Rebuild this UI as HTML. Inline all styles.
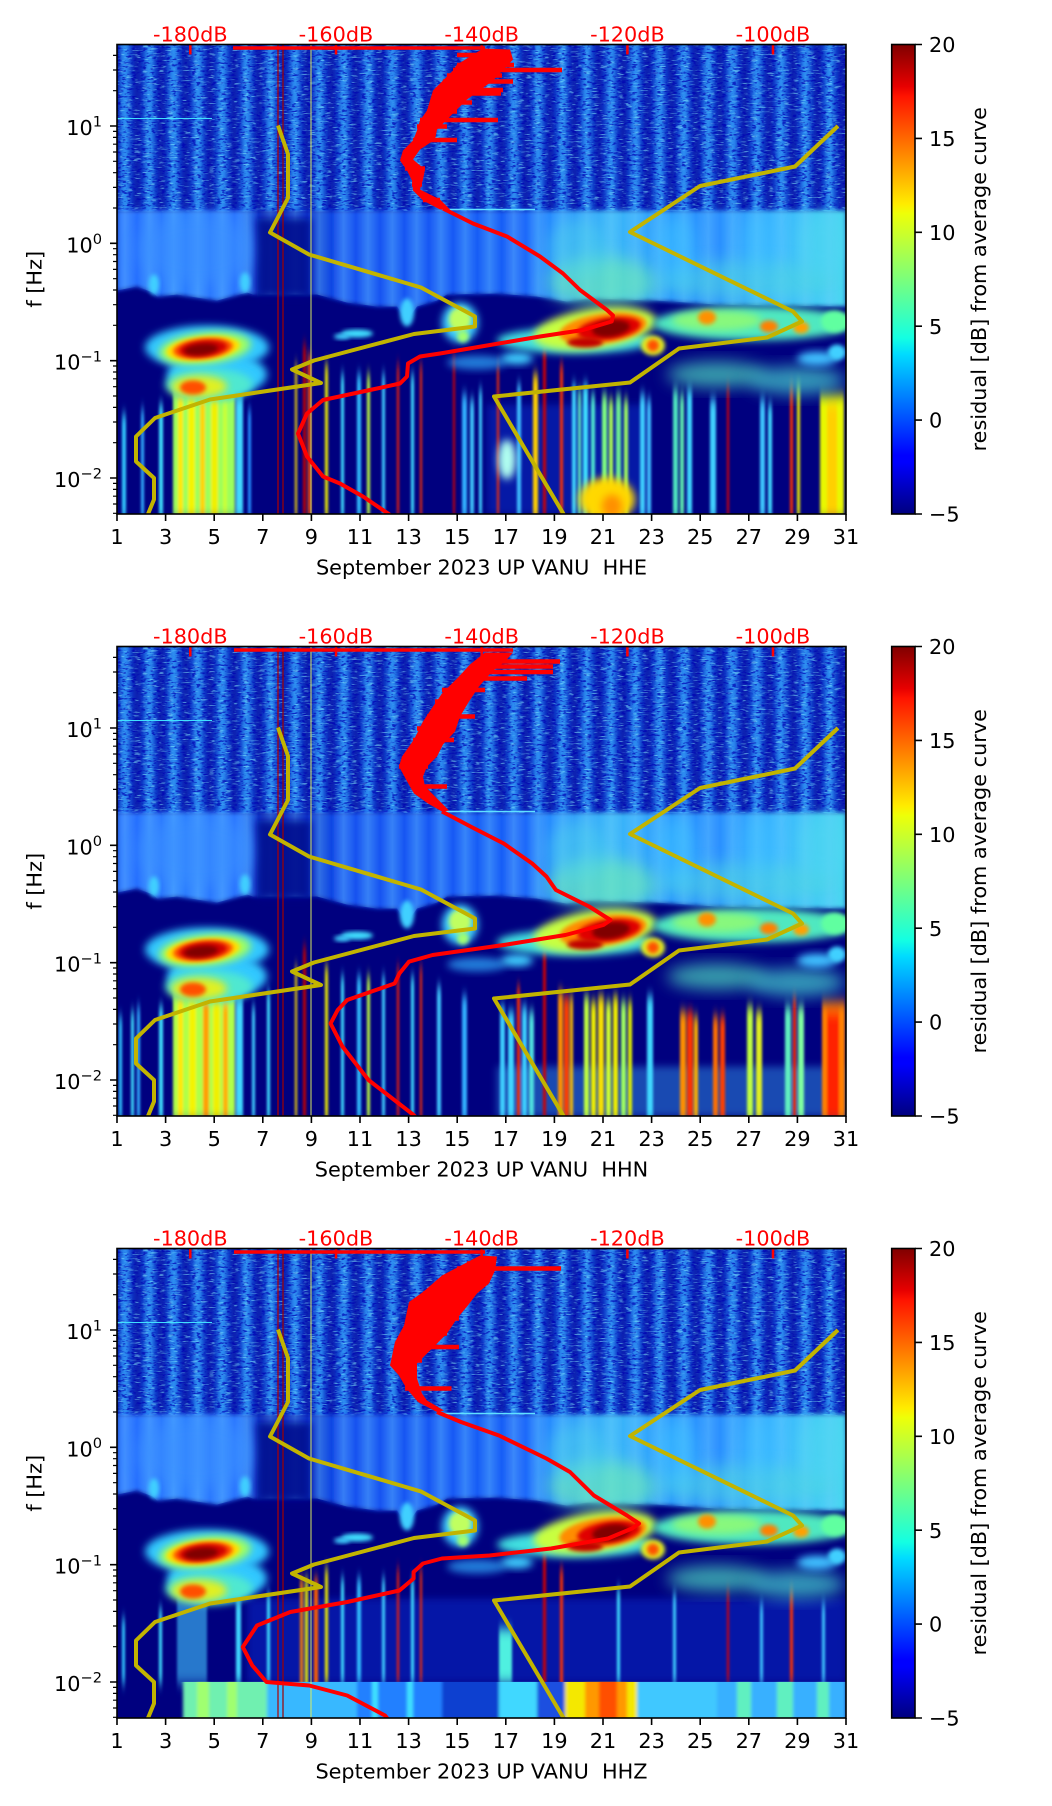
<!DOCTYPE html>
<html><head><meta charset="utf-8"><style>
html,body{margin:0;padding:0;background:#fff;}
svg{display:block;font-family:"DejaVu Sans","Liberation Sans",sans-serif;}
</style></head><body>
<svg width="1052" height="1806" viewBox="0 0 1052 1806" xmlns="http://www.w3.org/2000/svg" xmlns:xlink="http://www.w3.org/1999/xlink">
<defs>
<clipPath id="ax"><rect x="0" y="0" width="729" height="469.5"/></clipPath>
<filter id="b2" x="-30%" y="-30%" width="160%" height="160%"><feGaussianBlur stdDeviation="2"/></filter>
<filter id="b4" x="-40%" y="-40%" width="180%" height="180%"><feGaussianBlur stdDeviation="4"/></filter>
<filter id="b8" x="-40%" y="-40%" width="180%" height="180%"><feGaussianBlur stdDeviation="8"/></filter>
<filter id="bv" x="-10%" y="-10%" width="120%" height="120%"><feGaussianBlur stdDeviation="1.2 6"/></filter>
<filter id="bh" x="-10%" y="0%" width="120%" height="100%"><feGaussianBlur stdDeviation="1.5 0"/></filter>
<filter id="bh2" x="-5%" y="0%" width="110%" height="100%"><feGaussianBlur stdDeviation="2.2 0"/></filter>
<filter id="spk" x="0" y="0" width="1" height="1">
 <feTurbulence type="fractalNoise" baseFrequency="0.12 0.7" numOctaves="2" seed="4"/>
 <feColorMatrix type="matrix" values="0 0 0 0 0.25  0 0 0 0 0.9  0 0 0 0 1  7 0 0 0 -4.2"/>
</filter>
<filter id="spd" x="0" y="0" width="1" height="1">
 <feTurbulence type="fractalNoise" baseFrequency="0.2 0.5" numOctaves="2" seed="9"/>
 <feColorMatrix type="matrix" values="0 0 0 0 0  0 0 0 0 0  0 0 0 0 0.45  0 6 0 0 -3.2"/>
</filter>
<linearGradient id="stg" x1="0" y1="0" x2="1" y2="0">
 <stop offset="0" stop-color="#0a1ca8"/>
 <stop offset="0.26" stop-color="#0a34cc"/>
 <stop offset="0.5" stop-color="#3aacff"/>
 <stop offset="0.74" stop-color="#0a34cc"/>
 <stop offset="1" stop-color="#0a1ca8"/>
</linearGradient>
<pattern id="stp" patternUnits="userSpaceOnUse" x="-4.15" y="0" width="24.3" height="470">
 <rect width="24.3" height="470" fill="url(#stg)"/>
</pattern>
<linearGradient id="stg2" x1="0" y1="0" x2="1" y2="0">
 <stop offset="0" stop-color="#70d0ff" stop-opacity="0"/>
 <stop offset="0.5" stop-color="#70d0ff" stop-opacity="0.6"/>
 <stop offset="1" stop-color="#70d0ff" stop-opacity="0"/>
</linearGradient>
<pattern id="stp2" patternUnits="userSpaceOnUse" x="-4.15" y="0" width="24.3" height="470">
 <rect width="24.3" height="470" fill="url(#stg2)"/>
</pattern>
<linearGradient id="midg" x1="0" y1="0" x2="729" y2="0" gradientUnits="userSpaceOnUse">
 <stop offset="0" stop-color="#2468ff"/>
 <stop offset="0.08" stop-color="#2c7cff"/>
 <stop offset="0.17" stop-color="#2a74ff"/>
 <stop offset="0.2" stop-color="#0a28c0"/>
 <stop offset="0.27" stop-color="#0c34d0"/>
 <stop offset="0.31" stop-color="#1450f0"/>
 <stop offset="0.55" stop-color="#1a5ef8"/>
 <stop offset="0.6" stop-color="#2a90ff"/>
 <stop offset="0.68" stop-color="#3cb8f8"/>
 <stop offset="0.76" stop-color="#2c98ff"/>
 <stop offset="0.82" stop-color="#2a8cff"/>
 <stop offset="0.9" stop-color="#38b4ff"/>
 <stop offset="1" stop-color="#48d8f0"/>
</linearGradient>
<linearGradient id="jet" x1="0" y1="1" x2="0" y2="0">
 <stop offset="0" stop-color="#00007f"/>
 <stop offset="0.11" stop-color="#0000ff"/>
 <stop offset="0.125" stop-color="#0000ff"/>
 <stop offset="0.34" stop-color="#00dbff"/>
 <stop offset="0.375" stop-color="#14ffe2"/>
 <stop offset="0.5" stop-color="#7bff7b"/>
 <stop offset="0.64" stop-color="#eeff08"/>
 <stop offset="0.66" stop-color="#ffec00"/>
 <stop offset="0.89" stop-color="#ff1300"/>
 <stop offset="0.91" stop-color="#e80000"/>
 <stop offset="1" stop-color="#800000"/>
</linearGradient>

<g id="baseA">
 <rect x="0" y="0" width="729" height="470" fill="#00007f"/>
 <rect x="0" y="0" width="729" height="167" fill="url(#stp)" filter="url(#bh2)"/>
 <rect x="0" y="0" width="729" height="167" fill="#000" filter="url(#spd)" opacity="0.7"/>
 <rect x="0" y="0" width="729" height="167" fill="#000" filter="url(#spk)" opacity="0.5"/>
 <line x1="0" y1="74" x2="95" y2="74" stroke="#40e0ff" stroke-width="1"/>
 <g filter="url(#b2)">
  <polygon points="0,166 729,166 729,262 600,260 540,256 470,254 450,257 420,252 380,249 330,250 320,256 300,262 290,276 280,262 260,262 230,258 200,250 136,250 130,248 100,256 60,250 40,252 36,248 20,242 0,246" fill="url(#midg)"/>
 </g>
 <polygon points="0,166 729,166 729,262 600,260 540,256 470,254 450,257 420,252 380,249 330,250 320,256 300,262 290,276 280,262 260,262 230,258 200,250 136,250 130,248 100,256 60,250 40,252 36,248 20,242 0,246" fill="url(#stp2)" opacity="0.6"/>
 <ellipse cx="80" cy="205" rx="60" ry="35" fill="#3a90ff" opacity="0.6" filter="url(#b8)"/>
 <rect x="140" y="174" width="54" height="78" fill="#04108e" opacity="0.9" filter="url(#b4)"/>
 <ellipse cx="37" cy="240" rx="5" ry="10" fill="#40d0ff" filter="url(#b2)"/>
 <ellipse cx="128" cy="238" rx="5" ry="10" fill="#40d0ff" filter="url(#b2)"/>
 <ellipse cx="485" cy="238" rx="55" ry="26" fill="#70f0b0" opacity="0.6" filter="url(#b8)"/>
 <ellipse cx="460" cy="205" rx="30" ry="30" fill="#50d8e8" opacity="0.45" filter="url(#b8)"/>
 <ellipse cx="630" cy="236" rx="90" ry="20" fill="#50d8e0" opacity="0.55" filter="url(#b8)"/>
 <ellipse cx="705" cy="200" rx="25" ry="32" fill="#50d8f0" opacity="0.55" filter="url(#b8)"/>
 <ellipse cx="560" cy="205" rx="20" ry="35" fill="#40c8ff" opacity="0.5" filter="url(#b8)"/>
 <ellipse cx="640" cy="200" rx="18" ry="30" fill="#40c8ff" opacity="0.4" filter="url(#b8)"/>
 <line x1="325" y1="165" x2="418" y2="165" stroke="#60e0ff" stroke-width="1.5"/>
</g>

<g id="baseB">
 <ellipse cx="290" cy="268" rx="7" ry="14" fill="#40d0ff" filter="url(#b2)"/>
 <ellipse cx="240" cy="289" rx="16" ry="4" fill="#40e0ff" filter="url(#b2)"/>
 <ellipse cx="225" cy="292" rx="8" ry="3" fill="#40d0ff" filter="url(#b2)"/>
 <ellipse cx="343" cy="278" rx="18" ry="20" fill="#40d0ff" filter="url(#b4)"/>
 <ellipse cx="343" cy="275" rx="11" ry="12" fill="#c0ff60" filter="url(#b2)"/>
 <ellipse cx="346" cy="292" rx="6" ry="6" fill="#a0ff70" filter="url(#b2)"/>
 <ellipse cx="100" cy="330" rx="50" ry="22" fill="#30c8ff" filter="url(#b4)"/>
 <ellipse cx="90" cy="303" rx="62" ry="22" fill="#30c8ff" filter="url(#b4)"/>
 <ellipse cx="88" cy="304" rx="46" ry="16" fill="#a0ff60" filter="url(#b4)" transform="rotate(-6 88 304)"/>
 <ellipse cx="86" cy="304" rx="37" ry="12" fill="#ffe000" filter="url(#b2)" transform="rotate(-6 86 304)"/>
 <ellipse cx="86" cy="304" rx="30" ry="10" fill="#ff5000" filter="url(#b2)" transform="rotate(-6 86 304)"/>
 <ellipse cx="86" cy="304" rx="24" ry="8" fill="#d00000" filter="url(#b2)" transform="rotate(-6 86 304)"/>
 <ellipse cx="84" cy="305" rx="17" ry="5.5" fill="#800000" filter="url(#b2)" transform="rotate(-6 84 305)"/>
 <ellipse cx="92" cy="340" rx="44" ry="16" fill="#50e8d0" filter="url(#b4)"/>
 <ellipse cx="82" cy="342" rx="28" ry="11" fill="#e0f020" filter="url(#b4)"/>
 <ellipse cx="76" cy="343" rx="13" ry="7" fill="#ff5000" filter="url(#b2)"/>
 <ellipse cx="360" cy="318" rx="30" ry="7" fill="#30b0ff" opacity="0.7" filter="url(#b4)"/>
 <ellipse cx="400" cy="314" rx="16" ry="6" fill="#40d0ff" filter="url(#b4)"/>
 <ellipse cx="458" cy="296" rx="78" ry="13" fill="#40e0e0" filter="url(#b4)"/>
 <ellipse cx="478" cy="284" rx="62" ry="20" fill="#c8ff40" filter="url(#b4)" transform="rotate(-8 478 284)"/>
 <ellipse cx="486" cy="284" rx="44" ry="15" fill="#ff8c00" filter="url(#b2)" transform="rotate(-8 486 284)"/>
 <ellipse cx="492" cy="284" rx="32" ry="11" fill="#e00000" filter="url(#b2)" transform="rotate(-8 492 284)"/>
 <ellipse cx="494" cy="284" rx="19" ry="8" fill="#800000" filter="url(#b2)" transform="rotate(-8 494 284)"/>
 <ellipse cx="468" cy="298" rx="18" ry="5" fill="#c00000" filter="url(#b2)"/>
 <ellipse cx="636" cy="279" rx="100" ry="17" fill="#50e8c0" filter="url(#b4)"/>
 <ellipse cx="600" cy="276" rx="45" ry="10" fill="#a0ff60" opacity="0.7" filter="url(#b4)"/>
 <ellipse cx="590" cy="273" rx="9" ry="7" fill="#ff9000" filter="url(#b2)"/>
 <ellipse cx="652" cy="282" rx="9" ry="6" fill="#ff8000" filter="url(#b2)"/>
 <ellipse cx="684" cy="283" rx="8" ry="6" fill="#ffa000" filter="url(#b2)"/>
 <ellipse cx="718" cy="277" rx="14" ry="11" fill="#60ffa0" filter="url(#b2)"/>
 <ellipse cx="536" cy="301" rx="12" ry="10" fill="#e0f020" filter="url(#b2)"/>
 <ellipse cx="536" cy="301" rx="6" ry="6" fill="#ff5000" filter="url(#b2)"/>
 <ellipse cx="600" cy="330" rx="50" ry="13" fill="#50e0c0" opacity="0.7" filter="url(#b8)"/>
 <ellipse cx="680" cy="336" rx="48" ry="14" fill="#48d8d0" opacity="0.7" filter="url(#b8)"/>
 <ellipse cx="700" cy="314" rx="20" ry="7" fill="#40c0ff" filter="url(#b4)"/>
 <ellipse cx="720" cy="308" rx="9" ry="8" fill="#40d0ff" filter="url(#b2)"/>
</g>

<g id="vl">
 <line x1="161" y1="0" x2="161" y2="470" stroke="#b00000" stroke-width="1.2"/>
 <line x1="166" y1="0" x2="166" y2="470" stroke="#a00000" stroke-width="1.2"/>
 <line x1="194" y1="0" x2="194" y2="470" stroke="#e0f060" stroke-width="1.2" opacity="0.8"/>
</g>

<g id="yc" fill="none" stroke="#c2b400" stroke-width="4" stroke-linejoin="round">
 <polyline points="161,81 171,109.5 171,153.5 153,188 192,210 304,243 358,272 358,282 297,289.5 197,316 175,325 204,338.5 93,355 38,373.5 19,392 19,417 37,433.5 37,455 30,472"/>
 <polyline points="721,81.5 678,122 583,141.5 513,187.5 676,267 685,277 650,293 562,304 513,338 377,352 448,472"/>
</g>

<g id="rt" stroke="#ff0000" stroke-width="2.5">
 <line x1="73.3" y1="0" x2="73.3" y2="10"/>
 <line x1="219" y1="0" x2="219" y2="10"/>
 <line x1="364.7" y1="0" x2="364.7" y2="10"/>
 <line x1="510.4" y1="0" x2="510.4" y2="10"/>
 <line x1="656" y1="0" x2="656" y2="10"/>
</g>

<g id="deco">
 <rect x="0" y="0" width="729" height="469.5" fill="none" stroke="#000" stroke-width="1.6"/>
 <path d="M-7,81.5h7M-7,198.8h7M-7,316.2h7M-7,433.5h7" stroke="#000" stroke-width="1.6"/>
 <path d="M-4,46.2h4M-4,25.5h4M-4,10.9h4M-4,163.5h4M-4,142.9h4M-4,128.2h4M-4,116.8h4M-4,107.5h4M-4,99.7h4M-4,92.9h4M-4,86.9h4M-4,280.8h4M-4,260.2h4M-4,245.5h4M-4,234.2h4M-4,224.9h4M-4,217h4M-4,210.2h4M-4,204.2h4M-4,398.2h4M-4,377.5h4M-4,362.9h4M-4,351.5h4M-4,342.2h4M-4,334.3h4M-4,327.5h4M-4,321.5h4M-4,468.8h4M-4,459.5h4M-4,451.7h4M-4,444.9h4M-4,438.9h4" stroke="#000" stroke-width="1.2"/>
 <g font-size="20.8" text-anchor="end" fill="#000">
  <text x="-15" y="90.5">10<tspan font-size="14.6" dy="-8.4">1</tspan></text>
  <text x="-15" y="207.8">10<tspan font-size="14.6" dy="-8.4">0</tspan></text>
  <text x="-15" y="325.2">10<tspan font-size="14.6" dy="-8.4">−1</tspan></text>
  <text x="-15" y="442.5">10<tspan font-size="14.6" dy="-8.4">−2</tspan></text>
 </g>
 <path d="M0,469.5v7M48.6,469.5v7M97.2,469.5v7M145.8,469.5v7M194.4,469.5v7M243,469.5v7M291.6,469.5v7M340.2,469.5v7M388.8,469.5v7M437.4,469.5v7M486,469.5v7M534.6,469.5v7M583.2,469.5v7M631.8,469.5v7M680.4,469.5v7M729,469.5v7" stroke="#000" stroke-width="1.6"/>
 <g font-size="20.8" text-anchor="middle" fill="#000">
  <text x="0" y="499.5">1</text><text x="48.6" y="499.5">3</text><text x="97.2" y="499.5">5</text><text x="145.8" y="499.5">7</text><text x="194.4" y="499.5">9</text><text x="243" y="499.5">11</text><text x="291.6" y="499.5">13</text><text x="340.2" y="499.5">15</text><text x="388.8" y="499.5">17</text><text x="437.4" y="499.5">19</text><text x="486" y="499.5">21</text><text x="534.6" y="499.5">23</text><text x="583.2" y="499.5">25</text><text x="631.8" y="499.5">27</text><text x="680.4" y="499.5">29</text><text x="729" y="499.5">31</text>
 </g>
 <g font-size="20.8" text-anchor="middle" fill="#ff0000">
  <text x="73.3" y="-3">-180dB</text><text x="219" y="-3">-160dB</text><text x="364.7" y="-3">-140dB</text><text x="510.4" y="-3">-120dB</text><text x="656" y="-3">-100dB</text>
 </g>
 <text font-size="20.8" text-anchor="middle" transform="translate(-75.5,234.75) rotate(-90)">f [Hz]</text>
 <rect x="774.7" y="0" width="23.3" height="469.5" fill="url(#jet)"/>
 <rect x="774.7" y="0" width="23.3" height="469.5" fill="none" stroke="#000" stroke-width="1.6"/>
 <path d="M798,0h7M798,93.9h7M798,187.8h7M798,281.7h7M798,375.6h7M798,469.5h7" stroke="#000" stroke-width="1.6"/>
 <g font-size="20.8" fill="#000">
  <text x="812" y="7.6">20</text><text x="812" y="101.5">15</text><text x="812" y="195.4">10</text><text x="812" y="289.3">5</text><text x="812" y="383.2">0</text><text x="812" y="477.1">−5</text>
 </g>
 <text font-size="20.8" text-anchor="middle" transform="translate(868.8,234.75) rotate(-90)">residual [dB] from average curve</text>
</g>
</defs>

<rect x="0" y="0" width="1052" height="1806" fill="#fff"/>

<!-- PLOT 1 -->
<g transform="translate(117,44.5)">
 <g clip-path="url(#ax)">
  <use xlink:href="#baseA"/>
  <rect x="370" y="360" width="160" height="110" fill="#1040e0" opacity="0.4" filter="url(#b4)"/>
  <g filter="url(#bv)">
   <rect x="56" y="345" width="62" height="130" fill="#9cff5c"/>
   <rect x="61" y="350" width="5" height="125" fill="#ffe800"/>
   <rect x="71" y="345" width="7" height="130" fill="#f4f400"/>
   <rect x="83" y="350" width="5" height="125" fill="#ffd400"/>
   <rect x="94" y="345" width="7" height="130" fill="#f0f000"/>
   <rect x="106" y="355" width="4" height="120" fill="#c8ff38"/>
   <rect x="5" y="370" width="4" height="105" fill="#30c8ff"/>
   <rect x="24" y="365" width="3" height="110" fill="#30b0ff"/>
   <rect x="42" y="360" width="4" height="115" fill="#40e0ff"/>
   <rect x="119" y="350" width="7" height="125" fill="#40d8ff"/>
   <rect x="131" y="365" width="3" height="110" fill="#2890ff"/>
   <rect x="178" y="320" width="2" height="155" fill="#ffe000"/>
   <rect x="186" y="300" width="3" height="175" fill="#c00000"/>
   <rect x="191" y="310" width="3" height="165" fill="#ff5000"/>
   <rect x="208" y="320" width="3" height="155" fill="#f0f000"/>
   <rect x="224" y="330" width="3" height="145" fill="#40e0ff"/>
   <rect x="240" y="330" width="4" height="145" fill="#30c0ff"/>
   <rect x="250" y="330" width="3" height="145" fill="#c0ff40"/>
   <rect x="265" y="330" width="3" height="145" fill="#40d0ff"/>
   <rect x="280" y="320" width="2" height="155" fill="#ff2000"/>
   <rect x="294" y="330" width="3" height="145" fill="#40e0ff"/>
   <rect x="303" y="320" width="2" height="155" fill="#ff3000"/>
   <rect x="336" y="310" width="2" height="165" fill="#d00000"/>
   <rect x="345" y="350" width="5" height="125" fill="#30b0ff"/>
   <rect x="353" y="355" width="4" height="120" fill="#40c8ff"/>
   <rect x="362" y="345" width="3" height="130" fill="#40d0ff"/>
   <rect x="380" y="320" width="2" height="155" fill="#ff3000"/>
   <rect x="400" y="340" width="4" height="135" fill="#40c0ff"/>
   <rect x="416" y="330" width="5" height="145" fill="#ffd000"/>
   <rect x="426" y="300" width="3" height="175" fill="#d00000"/>
   <rect x="443" y="320" width="3" height="155" fill="#ff3000"/>
   <rect x="455" y="340" width="4" height="135" fill="#40d8ff"/>
   <rect x="461" y="345" width="3" height="130" fill="#60f0c0"/>
   <rect x="466" y="340" width="5" height="135" fill="#40e0ff"/>
   <rect x="474" y="350" width="4" height="125" fill="#50e8d0"/>
   <rect x="485" y="350" width="5" height="125" fill="#80ff80"/>
   <rect x="492" y="355" width="4" height="120" fill="#b0ff50"/>
   <rect x="499" y="350" width="5" height="125" fill="#70f090"/>
   <rect x="507" y="355" width="4" height="120" fill="#a0ff60"/>
   <rect x="523" y="350" width="5" height="125" fill="#40d0ff"/>
   <rect x="530" y="355" width="4" height="120" fill="#40c0ff"/>
   <rect x="556" y="345" width="5" height="130" fill="#50e8c0"/>
   <rect x="563" y="350" width="4" height="125" fill="#60f0b0"/>
   <rect x="570" y="345" width="5" height="130" fill="#40d8ff"/>
   <rect x="593" y="355" width="6" height="120" fill="#40d0ff"/>
   <rect x="610" y="340" width="2" height="135" fill="#e00000"/>
   <rect x="643" y="355" width="5" height="120" fill="#40c8ff"/>
   <rect x="651" y="360" width="4" height="115" fill="#40d8ff"/>
   <rect x="673" y="340" width="3" height="135" fill="#ff3000"/>
   <rect x="680" y="340" width="3" height="135" fill="#f0f000"/>
   <rect x="703" y="350" width="24" height="125" fill="#e8f800"/>
   <rect x="710" y="360" width="10" height="115" fill="#ffd000"/>
  </g>
  <ellipse cx="390" cy="415" rx="9" ry="20" fill="#b0fff0" filter="url(#b4)"/>
  <ellipse cx="490" cy="455" rx="28" ry="22" fill="#ffd800" filter="url(#b4)"/>
  <ellipse cx="495" cy="462" rx="10" ry="12" fill="#ff9000" filter="url(#b4)"/>
  <use xlink:href="#baseB"/>
  <use xlink:href="#vl"/>
  <use xlink:href="#yc"/>
  <line x1="116" y1="3.5" x2="368" y2="3.5" stroke="#ff0000" stroke-width="3.5"/>
  <polygon fill="#ff0000" points="366,4 350,14 340,20 336,26 326,36 316,46 313,56 310,66 303,76 300,86 296,96 286,106 283,116 290,126 295,136 296,146 306,156 323,165 333,165 323,155 303,145 306,135 308,125 296,115 303,105 318,95 320,85 330,75 340,65 350,55 376,36 396,15 393,5"/>
  <g stroke="#ff0000" stroke-width="4.5">
   <line x1="340" y1="10.5" x2="394" y2="10.5"/>
   <line x1="340" y1="20.5" x2="397" y2="20.5"/>
   <line x1="336" y1="25.5" x2="445" y2="25.5"/>
   <line x1="330" y1="31" x2="385" y2="31"/>
   <line x1="326" y1="37" x2="396" y2="37"/>
   <line x1="318" y1="45.5" x2="386" y2="45.5"/>
   <line x1="318" y1="49" x2="384" y2="49"/>
   <line x1="313" y1="58" x2="355" y2="58"/>
   <line x1="310" y1="67" x2="340" y2="67"/>
   <line x1="303" y1="75.5" x2="381" y2="75.5"/>
   <line x1="300" y1="82" x2="330" y2="82"/>
   <line x1="296" y1="95.5" x2="340" y2="95.5"/>
   <line x1="288" y1="124" x2="308" y2="124"/>
   <line x1="295" y1="134" x2="305" y2="134"/>
   <line x1="295" y1="140" x2="305" y2="140"/>
   <line x1="306" y1="155.5" x2="323" y2="155.5"/>
  </g>
  <polyline fill="none" stroke="#ff0000" stroke-width="4" stroke-linejoin="round" points="326,164 356,179 390,192 423,212 446,229 463,245.5 490,265.5 496,271 494.7,277 466,285.5 423,292 373,300.5 323,309 303,312 291,319 290,332 283,339 253,345.5 206,355.5 190,369 181,389 190,412 206,432 223,439 246,452 271,469 275,472"/>
  <use xlink:href="#rt"/>
 </g>
 <use xlink:href="#deco"/>
 <text x="364.5" y="530" font-size="20.8" text-anchor="middle" style="white-space:pre">September 2023 UP VANU  HHE</text>
</g>

<!-- PLOT 2 -->
<g transform="translate(117,646.5)">
 <g clip-path="url(#ax)">
  <use xlink:href="#baseA"/>
  <rect x="380" y="420" width="349" height="50" fill="#40b8ff" opacity="0.4" filter="url(#b4)"/>
  <g filter="url(#bv)">
   <rect x="56" y="345" width="62" height="130" fill="#b0ff48"/>
   <rect x="61" y="350" width="5" height="125" fill="#ffe800"/>
   <rect x="72" y="345" width="7" height="130" fill="#f4f400"/>
   <rect x="86" y="350" width="6" height="125" fill="#ffa000"/>
   <rect x="96" y="345" width="7" height="130" fill="#f0f000"/>
   <rect x="106" y="355" width="5" height="120" fill="#ffb000"/>
   <rect x="2" y="370" width="3" height="105" fill="#30c8ff"/>
   <rect x="14" y="365" width="3" height="110" fill="#40e0ff"/>
   <rect x="20" y="360" width="3" height="115" fill="#30b0ff"/>
   <rect x="42" y="360" width="4" height="115" fill="#40e0ff"/>
   <rect x="119" y="350" width="7" height="125" fill="#40d8ff"/>
   <rect x="135" y="360" width="3" height="115" fill="#40d0ff"/>
   <rect x="150" y="345" width="3" height="130" fill="#40e0ff"/>
   <rect x="178" y="320" width="2" height="155" fill="#ffe000"/>
   <rect x="186" y="300" width="3" height="175" fill="#c00000"/>
   <rect x="208" y="320" width="3" height="155" fill="#f0f000"/>
   <rect x="224" y="330" width="3" height="145" fill="#40e0ff"/>
   <rect x="240" y="330" width="4" height="145" fill="#30c0ff"/>
   <rect x="250" y="330" width="3" height="145" fill="#c0ff40"/>
   <rect x="265" y="330" width="3" height="145" fill="#40d0ff"/>
   <rect x="280" y="320" width="2" height="155" fill="#ff2000"/>
   <rect x="294" y="330" width="3" height="145" fill="#40e0ff"/>
   <rect x="303" y="320" width="2" height="155" fill="#ff3000"/>
   <rect x="320" y="340" width="4" height="135" fill="#40c8ff"/>
   <rect x="345" y="350" width="5" height="125" fill="#30b0ff"/>
   <rect x="383" y="360" width="5" height="115" fill="#40d0ff"/>
   <rect x="391" y="365" width="6" height="110" fill="#40d8ff"/>
   <rect x="400" y="340" width="3" height="135" fill="#ff3000"/>
   <rect x="405" y="360" width="5" height="115" fill="#40d0ff"/>
   <rect x="412" y="365" width="5" height="110" fill="#50e0e0"/>
   <rect x="426" y="300" width="3" height="175" fill="#d00000"/>
   <rect x="441" y="345" width="5" height="130" fill="#ff9000"/>
   <rect x="447" y="350" width="5" height="125" fill="#ff4000"/>
   <rect x="453" y="350" width="3" height="125" fill="#ffc000"/>
   <rect x="467" y="350" width="5" height="125" fill="#c0ff40"/>
   <rect x="474" y="355" width="5" height="120" fill="#f0f000"/>
   <rect x="481" y="350" width="6" height="125" fill="#f8e000"/>
   <rect x="489" y="355" width="5" height="120" fill="#d0ff30"/>
   <rect x="496" y="350" width="5" height="125" fill="#f0f000"/>
   <rect x="504" y="355" width="5" height="120" fill="#a0ff60"/>
   <rect x="511" y="355" width="4" height="120" fill="#e0f000"/>
   <rect x="530" y="350" width="6" height="125" fill="#40d8ff"/>
   <rect x="563" y="365" width="6" height="110" fill="#ff9000"/>
   <rect x="570" y="365" width="6" height="110" fill="#ff3000"/>
   <rect x="577" y="370" width="4" height="105" fill="#ffb000"/>
   <rect x="596" y="370" width="5" height="105" fill="#ff7000"/>
   <rect x="603" y="370" width="5" height="105" fill="#ff4000"/>
   <rect x="630" y="360" width="6" height="115" fill="#c0ff40"/>
   <rect x="639" y="365" width="6" height="110" fill="#e0f020"/>
   <rect x="668" y="360" width="6" height="115" fill="#60f0c0"/>
   <rect x="676" y="350" width="3" height="125" fill="#ff3000"/>
   <rect x="681" y="360" width="6" height="115" fill="#80ffa0"/>
   <rect x="705" y="355" width="23" height="120" fill="#ff8000"/>
   <rect x="710" y="365" width="12" height="110" fill="#ff2000"/>
  </g>
  <use xlink:href="#baseB"/>
  <use xlink:href="#vl"/>
  <use xlink:href="#yc"/>
  <line x1="117" y1="3.5" x2="396" y2="3.5" stroke="#ff0000" stroke-width="3.5"/>
  <polygon fill="#ff0000" points="368,6 353,18 342,30 325,47 316,60 306,75 297,93 285,110 282,120 289,133 297,147 311,157 325,165 332,164 320,152 308,140 306,130 310,120 320,110 326,98 338,85 343,70 352,55 362,40 375,25 388,15 396,6"/>
  <g stroke="#ff0000" stroke-width="4.5">
   <line x1="360" y1="15" x2="443" y2="15"/>
   <line x1="355" y1="20" x2="436" y2="20"/>
   <line x1="350" y1="25.5" x2="436" y2="25.5"/>
   <line x1="342" y1="32" x2="410" y2="32"/>
   <line x1="325" y1="43.5" x2="368" y2="43.5"/>
   <line x1="318" y1="55" x2="349" y2="55"/>
   <line x1="310" y1="70" x2="358" y2="70"/>
   <line x1="300" y1="82" x2="337" y2="82"/>
   <line x1="296" y1="93.5" x2="337" y2="93.5"/>
   <line x1="282" y1="120" x2="311" y2="120"/>
   <line x1="295" y1="140" x2="330" y2="140"/>
  </g>
  <polyline fill="none" stroke="#ff0000" stroke-width="4" stroke-linejoin="round" points="325,165 353.5,180 386.7,197 415.2,217 429.4,230 438.9,243.5 472.1,260 493.5,273.5 486.4,278.5 448.4,288.5 386.7,298.5 315.6,308.5 291.9,315.2 282.4,327 277.6,337 230.2,353.5 220.7,363.5 213.6,377 225.4,400 251.5,433.5 296.6,468.5 300,472"/>
  <use xlink:href="#rt"/>
 </g>
 <use xlink:href="#deco"/>
 <text x="364.5" y="530" font-size="20.8" text-anchor="middle" style="white-space:pre">September 2023 UP VANU  HHN</text>
</g>

<!-- PLOT 3 -->
<g transform="translate(117,1248.5)">
 <g clip-path="url(#ax)">
  <use xlink:href="#baseA"/>
  <rect x="130" y="350" width="599" height="84" fill="#0a30d8" opacity="0.45" filter="url(#b4)"/>
  <g filter="url(#bv)">
   <rect x="5" y="370" width="3" height="65" fill="#30c8ff"/>
   <rect x="42" y="360" width="3" height="75" fill="#40e0ff"/>
   <rect x="60" y="345" width="30" height="90" fill="#40c8ff" opacity="0.6"/>
   <rect x="119" y="350" width="5" height="85" fill="#40d8ff"/>
   <rect x="150" y="345" width="3" height="90" fill="#40e0ff"/>
   <rect x="183" y="330" width="3" height="145" fill="#ff8000"/>
   <rect x="188" y="330" width="3" height="145" fill="#f0f000"/>
   <rect x="197" y="330" width="4" height="145" fill="#ff6000"/>
   <rect x="208" y="320" width="3" height="115" fill="#f0f000"/>
   <rect x="224" y="330" width="3" height="105" fill="#40e0ff"/>
   <rect x="240" y="330" width="4" height="105" fill="#30c0ff"/>
   <rect x="265" y="330" width="3" height="105" fill="#40d0ff"/>
   <rect x="280" y="320" width="2" height="115" fill="#ff2000"/>
   <rect x="294" y="330" width="3" height="105" fill="#40e0ff"/>
   <rect x="303" y="320" width="2" height="115" fill="#ff3000"/>
   <rect x="382" y="380" width="13" height="55" fill="#50f0e0"/>
   <rect x="426" y="300" width="3" height="175" fill="#d00000"/>
   <rect x="443" y="320" width="3" height="155" fill="#ff3000"/>
   <rect x="500" y="340" width="3" height="95" fill="#40e0ff"/>
   <rect x="556" y="345" width="3" height="90" fill="#40d0ff"/>
   <rect x="610" y="340" width="2" height="95" fill="#e00000"/>
   <rect x="643" y="355" width="3" height="80" fill="#40c8ff"/>
   <rect x="673" y="340" width="3" height="95" fill="#ff3000"/>
   <rect x="705" y="355" width="3" height="80" fill="#40c8ff"/>
  </g>
  <g filter="url(#bh)">
   <rect x="66" y="433.4" width="84" height="37" fill="#70f0b0"/>
   <rect x="80" y="433.4" width="12" height="37" fill="#a0ff70"/>
   <rect x="110" y="433.4" width="10" height="37" fill="#a0ff70"/>
   <rect x="150" y="433.4" width="90" height="37" fill="#38b8ff"/>
   <rect x="240" y="433.4" width="85" height="37" fill="#2080ff"/>
   <rect x="255" y="433.4" width="6" height="37" fill="#40e0ff"/>
   <rect x="290" y="433.4" width="6" height="37" fill="#40e0ff"/>
   <rect x="325" y="433.4" width="57" height="37" fill="#1040d0"/>
   <rect x="382" y="433.4" width="38" height="37" fill="#40d8ff"/>
   <rect x="420" y="433.4" width="28" height="37" fill="#1a50e0"/>
   <rect x="448" y="433.4" width="72" height="37" fill="#f4e800"/>
   <rect x="468" y="433.4" width="42" height="37" fill="#ff9800"/>
   <rect x="482" y="433.4" width="18" height="37" fill="#ff5000"/>
   <rect x="520" y="433.4" width="80" height="37" fill="#40c8ff"/>
   <rect x="600" y="433.4" width="129" height="37" fill="#38b0ff"/>
   <rect x="620" y="433.4" width="14" height="37" fill="#60f0c0"/>
   <rect x="660" y="433.4" width="16" height="37" fill="#60f0c0"/>
   <rect x="700" y="433.4" width="12" height="37" fill="#60f0c0"/>
  </g>
  <use xlink:href="#baseB"/>
  <use xlink:href="#vl"/>
  <use xlink:href="#yc"/>
  <line x1="117" y1="3.5" x2="368" y2="3.5" stroke="#ff0000" stroke-width="3.5"/>
  <polygon fill="#ff0000" points="363,7 344,17 325,27 306,43.5 292,53.5 287,77 278,93.5 273,117 282,127 289.5,140 301,153.5 320,163.5 327,162 310,152 305,145 300,130 300,115 310,105 320,95 330,85 340,70 350,58 360,45 372,35 378,22 380,8"/>
  <g stroke="#ff0000" stroke-width="4.5">
   <line x1="350" y1="15" x2="377" y2="15"/>
   <line x1="340" y1="20" x2="444" y2="20"/>
   <line x1="325" y1="30" x2="368" y2="30"/>
   <line x1="320" y1="35" x2="368" y2="35"/>
   <line x1="306" y1="45" x2="356" y2="45"/>
   <line x1="300" y1="58" x2="345" y2="58"/>
   <line x1="292" y1="70" x2="342" y2="70"/>
   <line x1="285" y1="85" x2="330" y2="85"/>
   <line x1="280" y1="98.5" x2="342" y2="98.5"/>
   <line x1="275" y1="112" x2="305" y2="112"/>
   <line x1="288" y1="140" x2="334.5" y2="140"/>
  </g>
  <polyline fill="none" stroke="#ff0000" stroke-width="4" stroke-linejoin="round" points="320,163.5 344,173.5 382,187 429.4,210 453,223.5 476.9,247 510,267 522,275 515,280 491,290 434,300 372.5,307 325,310 306,315 296.6,323.5 296.6,330 282.4,342 230.2,353.5 173.3,363.5 140,377 125.8,398.5 135.3,417 149.5,433.5 192.2,437 230.2,447 268,467 272,472"/>
  <use xlink:href="#rt"/>
 </g>
 <use xlink:href="#deco"/>
 <text x="364.5" y="530" font-size="20.8" text-anchor="middle" style="white-space:pre">September 2023 UP VANU  HHZ</text>
</g>
</svg>
</body></html>
